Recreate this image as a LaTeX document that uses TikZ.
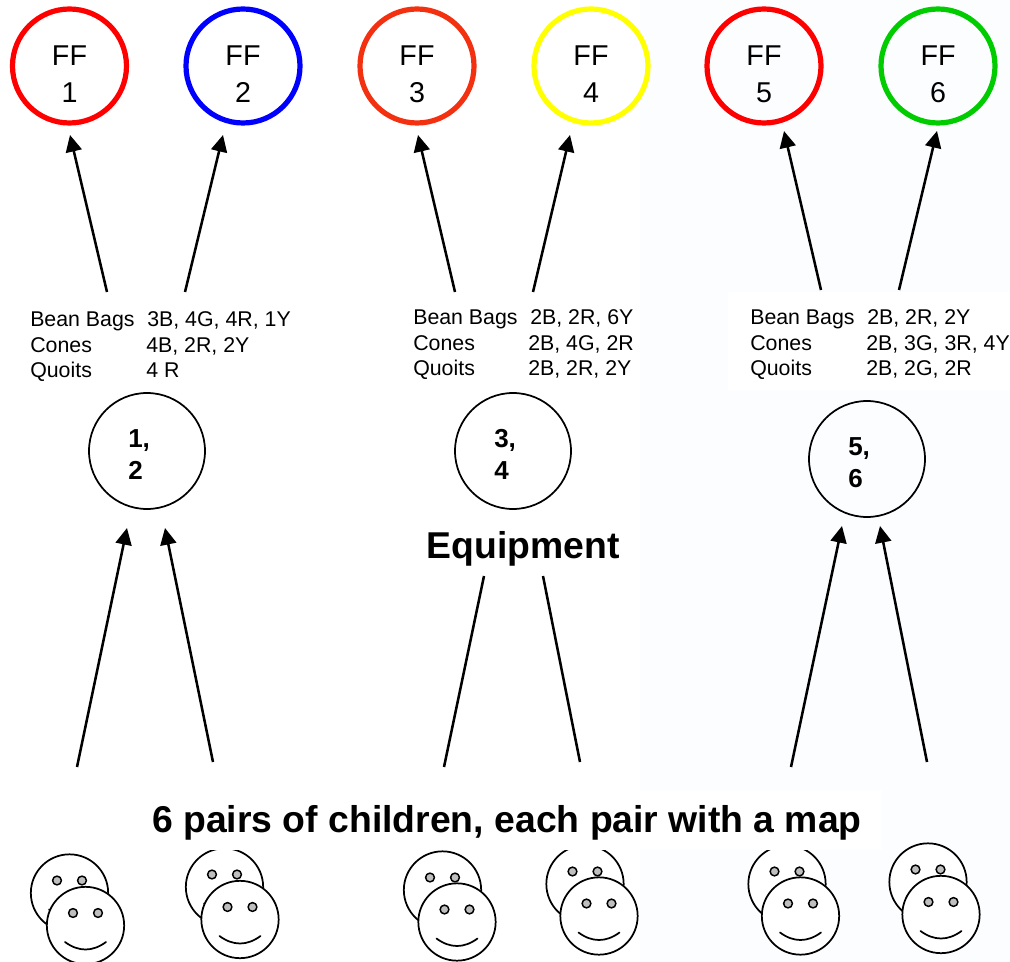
\documentclass[tikz,border=0pt]{standalone}
\usepackage{fontspec}
\setmainfont{Liberation Sans}
\usetikzlibrary{arrows.meta}
\definecolor{ffred}{RGB}{255,0,0}
\definecolor{ffblue}{RGB}{0,0,255}
\definecolor{fforange}{RGB}{243,48,16}
\definecolor{ffyellow}{RGB}{255,255,0}
\definecolor{ffgreen}{RGB}{0,204,0}
\definecolor{pagetint}{RGB}{252,253,255}
\tikzset{
  x=0.75pt,y=-0.75pt,
  ffcircle/.style={circle,draw=#1,line width=3.9pt,minimum size=85.5pt,inner sep=0pt},
  fftext/.style={font=\fontsize{21.5}{27.5}\selectfont,align=center,text depth=0pt},
  paircircle/.style={circle,draw=black,line width=1.3pt,minimum size=87pt,inner sep=0pt},
  pairtext/.style={font=\fontsize{19.5}{24}\selectfont\bfseries,align=left},
  tabletext/.style={font=\fontsize{16}{16}\selectfont,anchor=base west,inner sep=0pt},
  headtext/.style={font=\fontsize{28}{30}\selectfont\bfseries,inner sep=0pt},
  arrowline/.style={line width=1.9pt,-{Stealth[length=12.5pt,width=12pt,inset=0pt]}},
  plainline/.style={line width=1.9pt},
  facecircle/.style={circle,draw=black,fill=white,line width=1.3pt,minimum size=58pt,inner sep=0pt},
  eye/.style={circle,draw=black,fill=black!25,line width=1.1pt,minimum size=6.6pt,inner sep=0pt},
  smile/.style={line width=1.3pt,line cap=round},
}
\newcommand{\smileyface}[3]{%
  \node[facecircle] (#1) at (#2,#3) {};
  \node[eye] (#1l) at (#2-12.5,#3-12.5) {};
  \node[eye] (#1r) at (#2+12.5,#3-12.5) {};
  \coordinate (#1a) at (#2-20.5,#3+16.5);
  \coordinate (#1b) at (#2+20.5,#3+16.5);
  \draw[smile] (#1a) .. controls (#2-7,#3+26.5) and (#2+7,#3+26.5) .. (#1b);
}
\begin{document}
\begin{tikzpicture}
\useasboundingbox (0,0) rectangle (1010,962);
\fill[white] (0,0) rectangle (1010,962);
\fill[pagetint] (640,0) rectangle (1010,962);
\fill[white] (728,292) rectangle (1010,390);

% Faces (their tops are masked by the caption's white box)
\smileyface{fa}{69.5}{893}
\smileyface{fb}{85.5}{925.5}
\smileyface{fc}{224.5}{887}
\smileyface{fd}{240}{919.5}
\smileyface{fe}{442.5}{890}
\smileyface{ff}{457}{922}
\smileyface{fg}{585}{884}
\smileyface{fh}{599}{916}
\smileyface{fi}{787}{884}
\smileyface{fj}{800.5}{916}
\smileyface{fk}{928}{882}
\smileyface{fl}{941}{914.5}
\fill[white] (140,790) rectangle (882,850);

% Top circles
\node[ffcircle=ffred] (ff1) at (69.5,66) {};
\node[ffcircle=ffblue] (ff2) at (243,66) {};
\node[ffcircle=fforange] (ff3) at (417,66) {};
\node[ffcircle=ffyellow] (ff4) at (591,66) {};
\node[ffcircle=ffred] (ff5) at (764,66) {};
\node[ffcircle=ffgreen] (ff6) at (938,66) {};
\node[fftext] (t1) at (69.5,74) {FF\\1};
\node[fftext] (t2) at (243,74) {FF\\2};
\node[fftext] (t3) at (417,74) {FF\\3};
\node[fftext] (t4) at (591,74) {FF\\4};
\node[fftext] (t5) at (764,74) {FF\\5};
\node[fftext] (t6) at (938,74) {FF\\6};

% Arrow ends
\coordinate (a1s) at (107,292); \coordinate (a1e) at (70,135);
\coordinate (a2s) at (185,292); \coordinate (a2e) at (223,135);
\coordinate (a3s) at (455,292); \coordinate (a3e) at (418,135);
\coordinate (a4s) at (533,292); \coordinate (a4e) at (570,135);
\coordinate (a5s) at (821,290); \coordinate (a5e) at (784,131);
\coordinate (a6s) at (899,290); \coordinate (a6e) at (937,131);
\foreach \i in {1,...,6} \draw[arrowline] (a\i s) -- (a\i e);

% Tables
\node[tabletext] (b1a) at (30,327) {Bean Bags};
\node[tabletext] (b1b) at (147,327) {3B, 4G, 4R, 1Y};
\node[tabletext] (b1c) at (30,353) {Cones};
\node[tabletext] (b1d) at (146,353) {4B, 2R, 2Y};
\node[tabletext] (b1e) at (30,378) {Quoits};
\node[tabletext] (b1f) at (146,378) {4 R};
\node[tabletext] (b2a) at (413,325) {Bean Bags};
\node[tabletext] (b2b) at (530,325) {2B, 2R, 6Y};
\node[tabletext] (b2c) at (413,351) {Cones};
\node[tabletext] (b2d) at (528,351) {2B, 4G, 2R};
\node[tabletext] (b2e) at (413,376) {Quoits};
\node[tabletext] (b2f) at (528,376) {2B, 2R, 2Y};
\node[tabletext] (b3a) at (750,325) {Bean Bags};
\node[tabletext] (b3b) at (867,325) {2B, 2R, 2Y};
\node[tabletext] (b3c) at (750,351) {Cones};
\node[tabletext] (b3d) at (866,351) {2B, 3G, 3R, 4Y};
\node[tabletext] (b3e) at (750,376) {Quoits};
\node[tabletext] (b3f) at (866,376) {2B, 2G, 2R};

% Pair circles
\node[paircircle] (p1) at (147,451) {};
\node[paircircle] (p2) at (513,451) {};
\node[paircircle] (p3) at (867,459) {};
\node[pairtext,anchor=west,inner sep=0pt] (pt1) at (128,454.5) {1,\\2};
\node[pairtext,anchor=west,inner sep=0pt] (pt2) at (494,454.5) {3,\\4};
\node[pairtext,anchor=west,inner sep=0pt] (pt3) at (848,462.5) {5,\\6};

% Headings
\node[headtext] (equip) at (523,548.5) {Equipment};
\node[headtext] (pairs) at (507,823) {6 pairs of children, each pair with a map};

% Lower connectors
\coordinate (c1s) at (77,767); \coordinate (c1e) at (127,528);
\coordinate (c2s) at (213,762); \coordinate (c2e) at (165,528);
\coordinate (c5s) at (791,767); \coordinate (c5e) at (842,526);
\coordinate (c6s) at (927,762); \coordinate (c6e) at (880,526);
\foreach \i in {1,2,5,6} \draw[arrowline] (c\i s) -- (c\i e);
\coordinate (c3s) at (444,767); \coordinate (c3e) at (484,576);
\coordinate (c4s) at (580,762); \coordinate (c4e) at (543,576);
\draw[plainline] (c3s) -- (c3e);
\draw[plainline] (c4s) -- (c4e);
\end{tikzpicture}
\end{document}
